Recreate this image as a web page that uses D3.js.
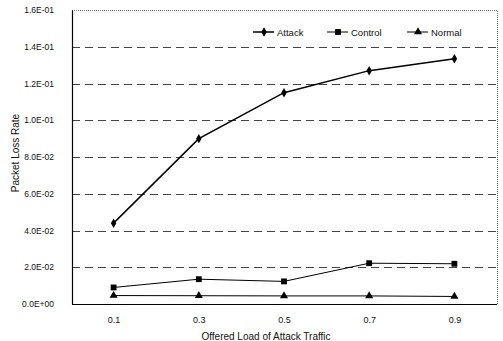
<!DOCTYPE html>
<html>
<head>
<meta charset="utf-8">
<script src="https://cdn.jsdelivr.net/npm/d3@7"></script>
<style>
  body { margin: 0; background: #fff; }
  text { font-family: "Liberation Sans", Arial, sans-serif; fill: #111; }
</style>
</head>
<body>
<div id="chart"></div>
<script>
// Chart data
const loads = ['0.1', '0.3', '0.5', '0.7', '0.9'];
const attack = [0.044, 0.090, 0.115, 0.127, 0.1335];
const control = [0.009, 0.0135, 0.0123, 0.0222, 0.0219];
const normal = [0.0046, 0.0045, 0.0044, 0.0044, 0.0041];
const yTicks = [0, 0.02, 0.04, 0.06, 0.08, 0.10, 0.12, 0.14, 0.16];
const seriesNames = ['Attack', 'Control', 'Normal'];

const width = 503, height = 341;
const plotLeft = 72, plotRight = 497, plotTop = 10, plotBottom = 304;

const svg = d3.select('#chart')
    .append('svg')
    .attr('width', width)
    .attr('height', height);

const x = d3.scalePoint().domain(loads).range([plotLeft - 1, plotRight]).padding(0.5);
const y = d3.scaleLinear().domain([0, 0.16]).range([plotBottom, plotTop]);

// Frame: dotted top and right
svg.append('path')
    .attr('d', `M${plotLeft},${plotTop + 0.5}H${plotRight + 0.5}V${plotBottom}`)
    .attr('fill', 'none')
    .attr('stroke', '#777')
    .attr('stroke-width', 1)
    .attr('stroke-dasharray', '1,1');

// Dashed gridlines
svg.append('g')
    .selectAll('line')
    .data(yTicks.filter(t => t > 0 && t < 0.16))
    .enter()
    .append('line')
    .attr('x1', plotLeft)
    .attr('x2', plotRight)
    .attr('y1', d => Math.round(y(d)) + 0.5)
    .attr('y2', d => Math.round(y(d)) + 0.5)
    .attr('stroke', '#444')
    .attr('stroke-width', 1)
    .attr('stroke-dasharray', '8,5');

// Y axis
const yAxis = svg.append('g')
    .attr('transform', `translate(${plotLeft},0)`)
    .call(d3.axisLeft(y).tickValues(yTicks).tickSize(0).tickPadding(18)
        .tickFormat(d => {
            const s = d.toExponential(1).toUpperCase();
            const m = s.match(/^([\d.]+)E([+-])(\d+)$/);
            return m[1] + 'E' + (m[2] === '-' ? '-' : '+') + m[3].padStart(2, '0');
        }));
yAxis.select('.domain').attr('stroke', '#000').attr('stroke-width', 1.2);
yAxis.selectAll('text').style('font-size', '8.5px');

// X axis
const xAxis = svg.append('g')
    .attr('transform', `translate(0,${plotBottom})`)
    .call(d3.axisBottom(x).tickSize(0).tickPadding(13));
xAxis.select('.domain').attr('d', `M${plotLeft},0.5H${plotRight}`).attr('stroke', '#000').attr('stroke-width', 1.2);
xAxis.selectAll('text').style('font-size', '9px');

// Axis titles
svg.append('text')
    .attr('x', 266)
    .attr('y', 340)
    .attr('text-anchor', 'middle')
    .style('font-size', '10px')
    .text('Offered Load of Attack Traffic');

svg.append('text')
    .attr('transform', 'translate(19,153) rotate(-90)')
    .attr('text-anchor', 'middle')
    .style('font-size', '10px')
    .text('Packet Loss Rate');

// Series
const series = [
    { name: seriesNames[0], values: attack, width: 1.5, symbol: d3.symbolDiamond, size: 26 },
    { name: seriesNames[1], values: control, width: 1, symbol: d3.symbolSquare, size: 34 },
    { name: seriesNames[2], values: normal, width: 1, symbol: d3.symbolTriangle, size: 28 }
];

const line = d3.line()
    .x((d, i) => x(loads[i]))
    .y(d => y(d));

series.forEach(s => {
    svg.append('path')
        .datum(s.values)
        .attr('fill', 'none')
        .attr('stroke', '#000')
        .attr('stroke-width', s.width)
        .attr('d', line);

    svg.append('g')
        .selectAll('path')
        .data(s.values)
        .enter()
        .append('path')
        .attr('transform', (d, i) => `translate(${x(loads[i])},${y(d)})`)
        .attr('d', d3.symbol().type(s.symbol).size(s.size))
        .attr('fill', '#000');
});

// Legend
const legendX = [253, 327, 407];
const legend = svg.append('g');
series.forEach((s, i) => {
    const lx = legendX[i], ly = 32;
    legend.append('line')
        .attr('x1', lx).attr('x2', lx + 21)
        .attr('y1', ly).attr('y2', ly)
        .attr('stroke', '#000')
        .attr('stroke-width', s.width);
    legend.append('path')
        .attr('transform', `translate(${lx + 11},${ly})`)
        .attr('d', d3.symbol().type(s.symbol).size(s.size))
        .attr('fill', '#000');
    legend.append('text')
        .attr('x', lx + 24)
        .attr('y', ly + 3.5)
        .style('font-size', '9.5px')
        .text(s.name);
});
</script>
</body>
</html>
